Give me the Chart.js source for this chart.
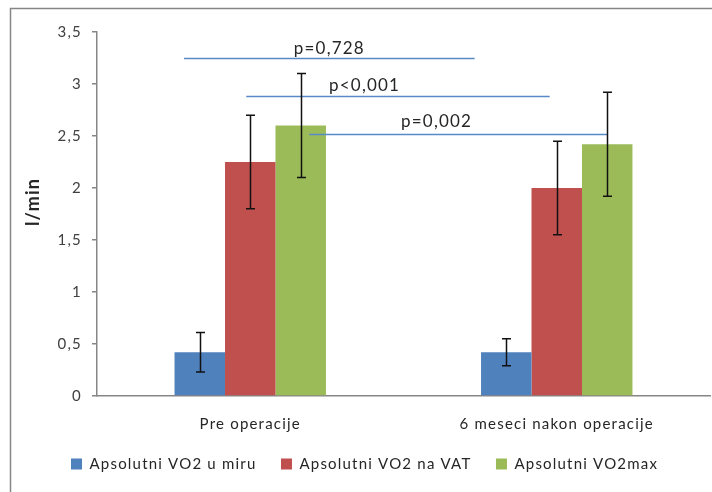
<!DOCTYPE html>
<html>
<head>
<meta charset="utf-8">
<title>Apsolutni VO2</title>
<script src="https://cdn.jsdelivr.net/npm/chart.js@4.4.0/dist/chart.umd.min.js"></script>
<style>
  html, body { margin: 0; padding: 0; background: #fff; }
  #wrap { width: 712px; height: 492px; position: relative; }
</style>
</head>
<body>
<div id="wrap"><canvas id="vo2Chart"></canvas></div>
<script>
const categories = ['Pre operacije', '6 meseci nakon operacije'];
const seriesNames = ['Apsolutni VO2 u miru', 'Apsolutni VO2 na VAT', 'Apsolutni VO2max'];
const restValues = [0.42, 0.42];
const restErrors = [0.19, 0.13];
const vatValues = [2.25, 2.00];
const vatErrors = [0.45, 0.45];
const maxValues = [2.60, 2.42];
const maxErrors = [0.50, 0.50];
const yMin = 0;
const yMax = 3.5;
const yStep = 0.5;

// significance brackets: x in category units, y in l/min
const pLabels = ['p=0,728', 'p<0,001', 'p=0,002'];
const pLevels = [3.25, 2.88, 2.52];
const pFrom = [-0.216, -0.013, 0.193];
const pTo = [0.732, 0.977, 1.167];
const pTextX = [0.258, 0.373, 0.608];
const pTextY = [3.29, 2.93, 2.59];

const FONT = 'Lato, "Liberation Sans", sans-serif';
const TEXT = '#262626';
const AXIS = '#868686';
const SPACING = '1.2px';

const errorSets = [restErrors, vatErrors, maxErrors];

// slightly tracked text everywhere; the canvas state resets on resize
const spacingPlugin = {
    id: 'spacing',
    beforeUpdate(chart) { chart.ctx.letterSpacing = SPACING; },
    beforeDraw(chart) { chart.ctx.letterSpacing = SPACING; }
};

// outer frame and rotated axis title
const framePlugin = {
    id: 'frame',
    beforeDraw(chart) {
        const ctx = chart.ctx;
        ctx.save();
        ctx.fillStyle = '#fff';
        ctx.fillRect(0, 0, chart.width, chart.height);
        ctx.strokeStyle = AXIS;
        ctx.lineWidth = 1.5;
        ctx.strokeRect(10.5, 8.5, chart.width + 20, chart.height + 20);
        ctx.restore();
    },
    afterDraw(chart) {
        const ctx = chart.ctx;
        ctx.save();
        ctx.translate(33, 202);
        ctx.rotate(-Math.PI / 2);
        ctx.font = 'bold 18px ' + FONT;
        ctx.fillStyle = TEXT;
        ctx.textAlign = 'center';
        ctx.textBaseline = 'middle';
        ctx.fillText('l/min', 0, 0);
        ctx.restore();
    }
};

// p-value brackets, then error bars on top
const overlayPlugin = {
    id: 'overlay',
    afterDatasetsDraw(chart) {
        const ctx = chart.ctx;
        const xs = chart.scales.x;
        const ys = chart.scales.y;
        const x0 = xs.getPixelForValue(0);
        const x1 = xs.getPixelForValue(1);
        const at = v => x0 + (x1 - x0) * v;

        ctx.save();
        ctx.strokeStyle = '#5a8ac6';
        ctx.lineWidth = 1.5;
        pLabels.forEach((label, i) => {
            const py = Math.round(ys.getPixelForValue(pLevels[i])) + 0.5;
            ctx.beginPath();
            ctx.moveTo(at(pFrom[i]), py);
            ctx.lineTo(at(pTo[i]), py);
            ctx.stroke();
        });
        ctx.font = '17px ' + FONT;
        ctx.fillStyle = TEXT;
        ctx.textAlign = 'center';
        ctx.textBaseline = 'alphabetic';
        pLabels.forEach((label, i) => {
            ctx.fillText(label, at(pTextX[i]), ys.getPixelForValue(pTextY[i]));
        });

        ctx.strokeStyle = '#111';
        ctx.lineWidth = 1.5;
        chart.data.datasets.forEach((ds, d) => {
            const meta = chart.getDatasetMeta(d);
            meta.data.forEach((bar, j) => {
                const v = ds.data[j];
                const e = errorSets[d][j];
                const bx = Math.round(bar.x) + 0.5;
                const top = ys.getPixelForValue(v + e);
                const bot = ys.getPixelForValue(v - e);
                ctx.beginPath();
                ctx.moveTo(bx, top);
                ctx.lineTo(bx, bot);
                ctx.moveTo(bx - 4.5, top);
                ctx.lineTo(bx + 4.5, top);
                ctx.moveTo(bx - 4.5, bot);
                ctx.lineTo(bx + 4.5, bot);
                ctx.stroke();
            });
        });
        ctx.restore();
    }
};

const ctx = document.getElementById('vo2Chart').getContext('2d');
new Chart(ctx, {
    type: 'bar',
    data: {
        labels: categories,
        datasets: [
            { label: seriesNames[0], data: restValues, backgroundColor: '#4f81bd' },
            { label: seriesNames[1], data: vatValues, backgroundColor: '#c0504d' },
            { label: seriesNames[2], data: maxValues, backgroundColor: '#9bbb59' }
        ]
    },
    options: {
        responsive: true,
        maintainAspectRatio: false,
        animation: false,
        layout: { padding: { left: 46.5, top: 32, right: 2, bottom: 10.5 } },
        datasets: {
            bar: { barPercentage: 1, categoryPercentage: 0.494, borderWidth: 0 }
        },
        scales: {
            x: {
                grid: { display: true, drawOnChartArea: false, drawTicks: false },
                border: { color: AXIS, width: 1.5 },
                ticks: { padding: 19, color: TEXT, font: { family: FONT, size: 15 } },
                afterFit(scale) { scale.height = 36; }
            },
            y: {
                min: yMin,
                max: yMax,
                grid: { drawOnChartArea: false, drawTicks: true, tickLength: 5, color: AXIS, lineWidth: 1.5 },
                border: { color: AXIS, width: 1.5 },
                ticks: {
                    stepSize: yStep,
                    padding: 10,
                    color: '#404040',
                    font: { family: FONT, size: 15 },
                    callback: v => String(v).replace('.', ',')
                },
                afterFit(scale) { scale.width = 50.5; }
            }
        },
        plugins: {
            tooltip: { enabled: false },
            legend: {
                position: 'bottom',
                align: 'start',
                labels: {
                    boxWidth: 11,
                    boxHeight: 11,
                    padding: 24.5,
                    color: TEXT,
                    font: { family: FONT, size: 15 }
                }
            }
        }
    },
    plugins: [spacingPlugin, framePlugin, overlayPlugin]
});
</script>
</body>
</html>
